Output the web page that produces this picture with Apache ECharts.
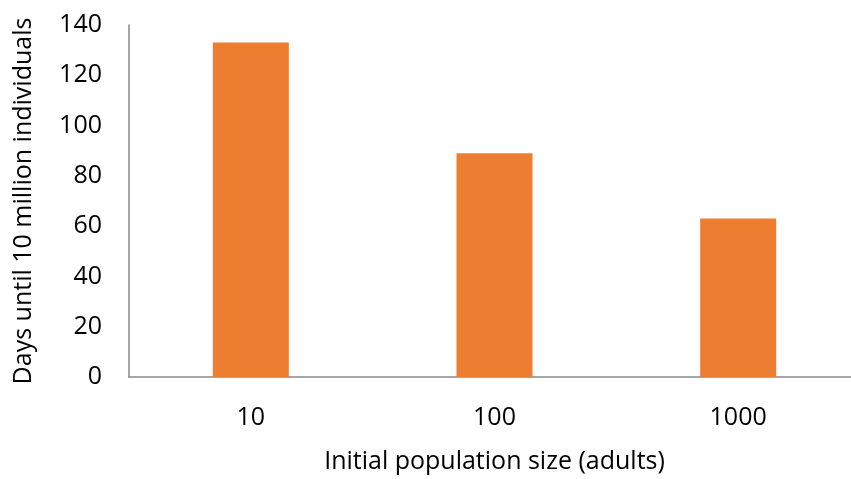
<!DOCTYPE html>
<html>
<head>
<meta charset="utf-8">
<script src="https://cdn.jsdelivr.net/npm/echarts@6/dist/echarts.min.js"></script>
<style>html,body{margin:0;padding:0;background:#fff;overflow:hidden;width:851px;height:479px;}#c{width:860px;height:479px;}</style>
</head>
<body>
<div id="c"></div>
<script>
const categories = ['10', '100', '1000'];
const days = [133, 89, 63];
const yTicks = {min: 0, max: 140, interval: 20};

const chart = echarts.init(document.getElementById('c'), null, {renderer: 'canvas'});
const font = '"Open Sans", "Noto Sans", sans-serif';
chart.setOption({
  animation: false,
  backgroundColor: '#ffffff',
  grid: {left: 129, top: 25, width: 731, height: 358.5, containLabel: false},
  xAxis: {
    type: 'category',
    data: categories,
    axisLine: {lineStyle: {color: '#898989', width: 1.5}},
    axisTick: {show: false},
    axisLabel: {color: '#000', fontSize: 25, fontFamily: font, margin: 28},
    name: 'Initial population size (adults)',
    nameLocation: 'middle',
    nameGap: 72,
    nameTextStyle: {color: '#000', fontSize: 25, fontFamily: font}
  },
  yAxis: {
    type: 'value',
    min: yTicks.min, max: yTicks.max, interval: yTicks.interval,
    splitLine: {show: false},
    axisLine: {show: true, lineStyle: {color: '#898989', width: 1.5}},
    axisTick: {show: false},
    axisLabel: {color: '#000', fontSize: 25, fontFamily: font, margin: 27},
    name: 'Days until 10 million individuals',
    nameLocation: 'middle',
    nameGap: 93,
    nameTextStyle: {color: '#000', fontSize: 25, fontFamily: font}
  },
  series: [{
    type: 'bar',
    data: days,
    barWidth: 76,
    itemStyle: {color: '#ED7D31'}
  }]
});
</script>
</body>
</html>
